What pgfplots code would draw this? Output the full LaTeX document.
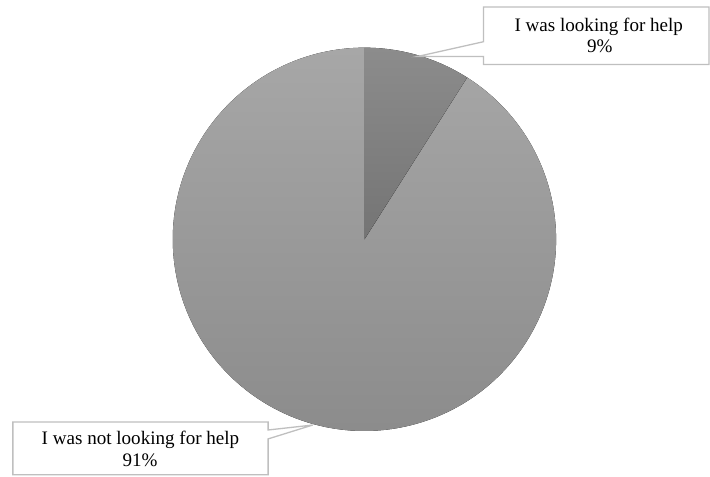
\documentclass[border=0pt]{standalone}
\usepackage{pgfplots}
\usepackage{pgfplotstable}
\pgfplotsset{compat=1.18}
\usepackage{fontspec}
\setmainfont{Liberation Serif}
\definecolor{bigTop}{HTML}{A7A7A7}
\definecolor{bigBot}{HTML}{8A8A8A}
\definecolor{smallTop}{HTML}{8C8C8C}
\definecolor{smallBot}{HTML}{747474}
\definecolor{boxgray}{HTML}{BFBFBF}
\pgfplotstableread{
label value
looking 9
notlooking 91
}\piedata
\begin{document}
\pgfplotstablegetelem{0}{value}\of\piedata
\pgfmathsetmacro\angA{90-3.6*\pgfplotsretval}
\pgfplotstablegetelem{1}{value}\of\piedata
\pgfmathsetmacro\angB{\angA-3.6*\pgfplotsretval}
\begin{tikzpicture}
\begin{axis}[hide axis, x=1bp, y=1bp, xmin=-362, xmax=348, ymin=-239, ymax=241,
  clip=false, scale only axis]
% big slice
\fill[top color=bigTop, bottom color=bigBot] (axis cs:0,0) -- ++(\angA:193bp)
  arc[start angle=\angA, end angle=\angB, radius=193bp] -- cycle;
% small slice
\fill[top color=smallTop, bottom color=smallBot] (axis cs:0,0) -- ++(90:193bp)
  arc[start angle=90, end angle=\angA, radius=193bp] -- cycle;
% callout top right
\draw[boxgray, line width=1.3bp, fill=white] (axis cs:120,234) -- (axis cs:347,234) -- (axis cs:347,176)
  -- (axis cs:120,176) -- (axis cs:120,184) -- (axis cs:53,184) -- (axis cs:120,199) -- cycle;
% callout bottom left
\draw[boxgray, line width=1.3bp, fill=white] (axis cs:-354,-184) -- (axis cs:-97,-184) -- (axis cs:-97,-192)
  -- (axis cs:-52,-187) -- (axis cs:-97,-201) -- (axis cs:-97,-237) -- (axis cs:-354,-237) -- cycle;
\begin{scope}[every node/.style={anchor=base, inner sep=0pt, font=\fontsize{19.2bp}{21bp}\selectfont, text=black}]
\node at (axis cs:236,209) {I was looking for help};
\node at (axis cs:237,188) {9\%};
\node at (axis cs:-225.5,-207) {I was not looking for help};
\node at (axis cs:-226,-229) {91\%};
\end{scope}
\path (axis cs:-362,-239) rectangle (axis cs:348,241);
\end{axis}
\end{tikzpicture}
\end{document}
